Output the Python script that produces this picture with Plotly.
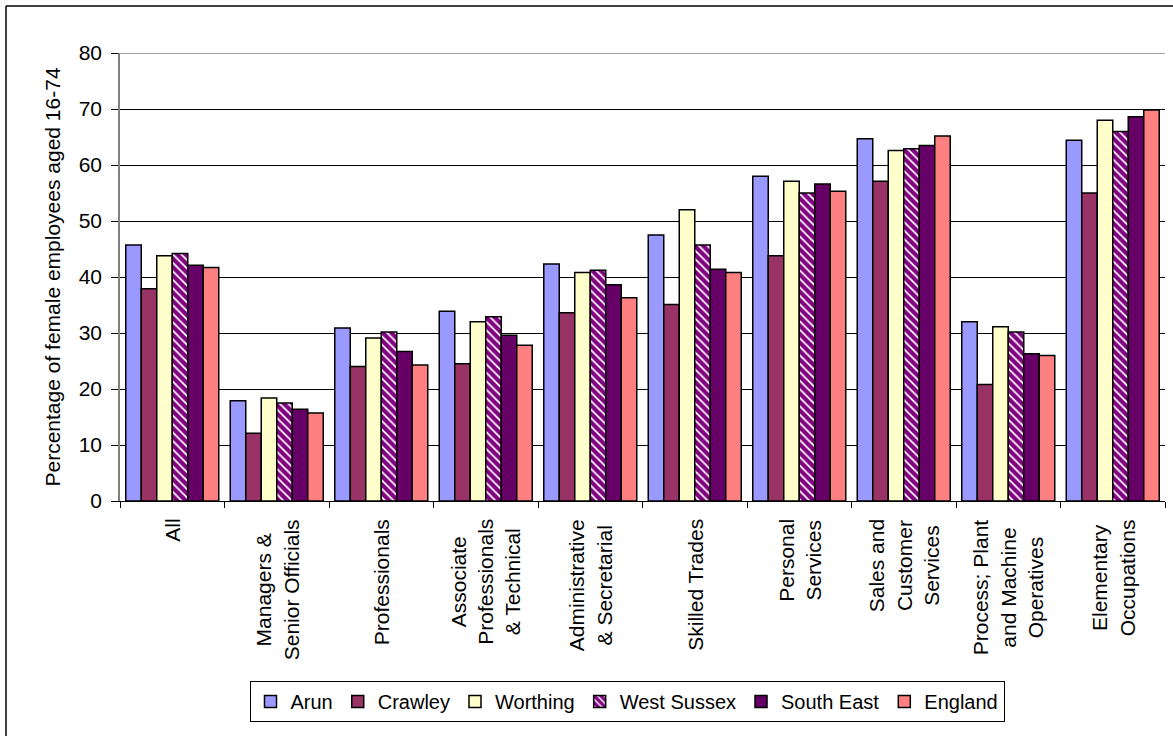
import plotly.graph_objects as go

# Occupation groups (line breaks as they appear under the axis)
categories = [
    "All",
    "Managers &<br>Senior Officials",
    "Professionals",
    "Associate<br>Professionals<br>& Technical",
    "Administrative<br>& Secretarial",
    "Skilled Trades",
    "Personal<br>Services",
    "Sales and<br>Customer<br>Services",
    "Process; Plant<br>and Machine<br>Operatives",
    "Elementary<br>Occupations",
]

arun = [45.7, 17.9, 30.9, 33.9, 42.3, 47.5, 58.0, 64.7, 32.0, 64.4]
crawley = [37.9, 12.1, 24.0, 24.5, 33.6, 35.1, 43.8, 57.1, 20.8, 55.0]
worthing = [43.8, 18.4, 29.1, 32.0, 40.8, 52.0, 57.1, 62.6, 31.1, 68.0]
west_sussex = [44.2, 17.5, 30.2, 32.9, 41.2, 45.7, 55.0, 62.9, 30.2, 66.0]
south_east = [42.1, 16.4, 26.7, 29.6, 38.6, 41.4, 56.6, 63.5, 26.3, 68.6]
england = [41.7, 15.7, 24.3, 27.8, 36.3, 40.8, 55.3, 65.2, 26.0, 69.8]

y_ticks = [0, 10, 20, 30, 40, 50, 60, 70, 80]

W, H = 1173, 736
ML, MR, MT, MB = 120, 8, 53, 235
PW, PH = W - ML - MR, H - MT - MB

FONT = "Liberation Sans, Arial, sans-serif"

series = [
    ("Arun", arun, dict(color="#9999FF")),
    ("Crawley", crawley, dict(color="#993366")),
    ("Worthing", worthing, dict(color="#FFFFCC")),
    ("West Sussex", west_sussex, dict(color="#FFFFFF",
                                      pattern=dict(shape="\\", fgcolor="#800080",
                                                   bgcolor="#FFFFFF", size=6,
                                                   solidity=0.7, fgopacity=1))),
    ("South East", south_east, dict(color="#660066")),
    ("England", england, dict(color="#FF8080")),
]

fig = go.Figure()
for name, vals, marker in series:
    marker = dict(marker)
    marker["line"] = dict(color="#000000", width=1.5)
    fig.add_trace(go.Bar(name=name, x=categories, y=vals, marker=marker))


def px_to_paper_x(px):
    return (px - ML) / PW


def px_to_paper_y(py):
    return (H - MB - py) / PH


# Rotated category labels, lines centred within each block
for cat in categories:
    fig.add_annotation(
        x=cat, xref="x", y=0, yref="paper", yshift=-16,
        text=cat, textangle=-90, showarrow=False,
        xanchor="center", yanchor="top", align="center",
        font=dict(family=FONT, size=21, color="#000000"),
    )

shapes = [
    # top boundary of the plot area
    dict(type="line", xref="paper", yref="y", x0=0, x1=1, y0=80, y1=80,
         line=dict(color="#808080", width=1.5), layer="above"),
    # chart frame
    dict(type="line", xref="paper", yref="paper",
         x0=px_to_paper_x(6), x1=px_to_paper_x(W + 5),
         y0=px_to_paper_y(6), y1=px_to_paper_y(6),
         line=dict(color="#000000", width=1.5)),
    dict(type="line", xref="paper", yref="paper",
         x0=px_to_paper_x(6), x1=px_to_paper_x(6),
         y0=px_to_paper_y(6), y1=px_to_paper_y(H + 5),
         line=dict(color="#000000", width=1.5)),
]

fig.update_layout(
    width=W, height=H,
    margin=dict(l=ML, r=MR, t=MT, b=MB, pad=0),
    paper_bgcolor="#FFFFFF", plot_bgcolor="#FFFFFF",
    barmode="group", bargap=0.11, bargroupgap=0,
    font=dict(family=FONT, size=21, color="#000000"),
    shapes=shapes,
    showlegend=True,
    legend=dict(
        orientation="h",
        x=px_to_paper_x(627), xanchor="center",
        y=px_to_paper_y(681), yanchor="top",
        bordercolor="#000000", borderwidth=1,
        font=dict(family=FONT, size=20, color="#000000"),
        itemwidth=30, tracegroupgap=0,
        traceorder="normal",
    ),
    xaxis=dict(
        showticklabels=False,
        tickson="boundaries", ticks="outside", ticklen=6,
        tickcolor="#000000", tickwidth=1,
        showline=True, linecolor="#000000", linewidth=1,
        showgrid=False, range=[-0.5, 9.5],
    ),
    yaxis=dict(
        range=[0, 80], tickvals=y_ticks, ticks="outside", ticklen=7,
        tickcolor="#000000", tickwidth=1,
        showline=True, linecolor="#808080", linewidth=1.5,
        showgrid=True, gridcolor="#000000", gridwidth=1,
        zeroline=False,
        tickfont=dict(family=FONT, size=21, color="#000000"),
        ticklabelstandoff=5,
        title=dict(text="Percentage of female employees aged 16-74",
                   font=dict(family=FONT, size=21, color="#000000"),
                   standoff=12),
    ),
)

fig.write_html("out.html")
